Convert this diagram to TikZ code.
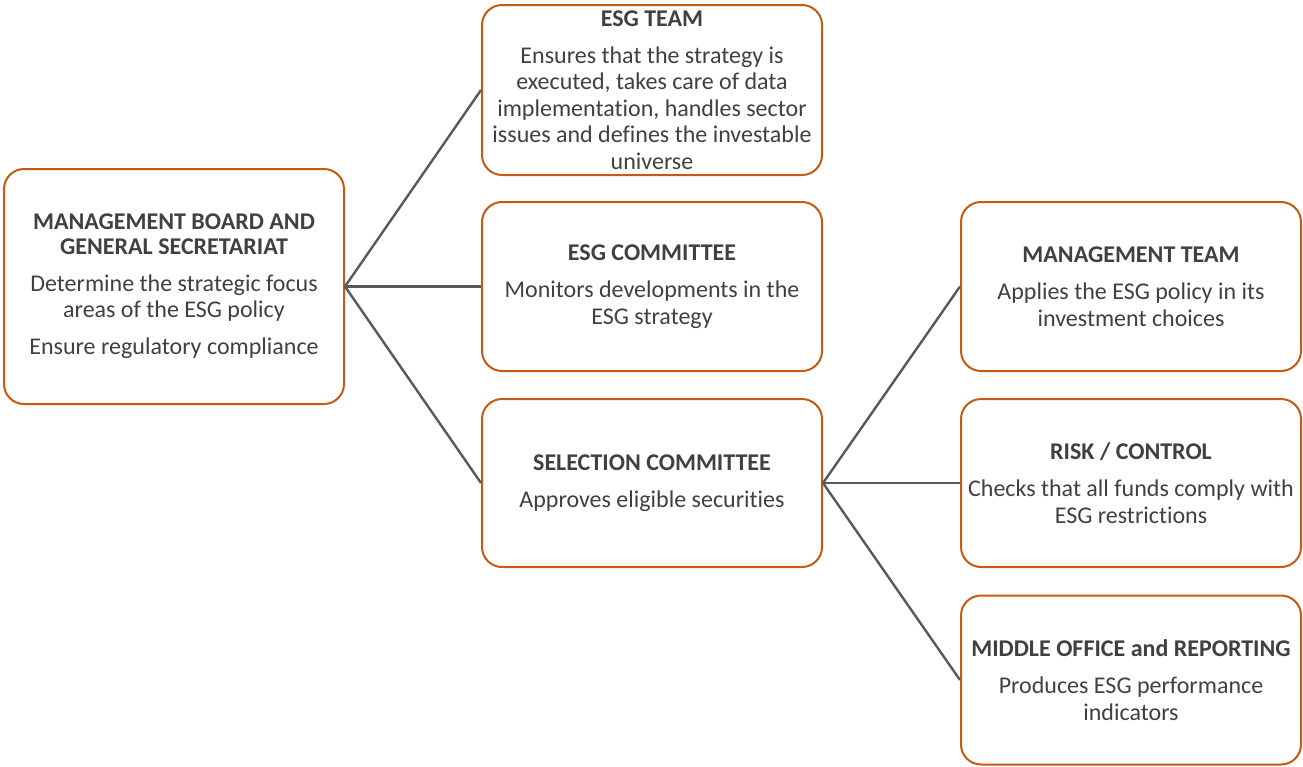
\documentclass[tikz,border=0pt]{standalone}
\usepackage{fontspec}
\setmainfont{Carlito}[Ligatures=NoCommon]
\definecolor{boxorange}{HTML}{C55A11}
\definecolor{txtgray}{HTML}{404040}
\definecolor{linegray}{HTML}{595959}
\begin{document}
\begin{tikzpicture}[x=1pt,y=-1pt,
  orgbox/.style={draw=boxorange, line width=2pt, rounded corners=20pt, fill=white,
    minimum width=340pt, align=center, text=txtgray,
    font=\fontsize{24}{26.5}\selectfont, inner sep=0pt},
  link/.style={draw=linegray, line width=2.4pt}]
\useasboundingbox (0,0) rectangle (1303,766);
\node[orgbox, minimum height=235pt] (board) at (174,286.5)
  {\textbf{MANAGEMENT BOARD AND}\\[-2pt]\textbf{GENERAL SECRETARIAT}\\[10.5pt]
   Determine the strategic focus\\areas of the ESG policy\\[10.5pt]Ensure regulatory compliance};
\node[orgbox, minimum height=170pt] (team) at (652,90)
  {\textbf{ESG TEAM}\\[10.5pt]Ensures that the strategy is\\executed, takes care of data\\
   implementation, handles sector\\issues and defines the investable\\universe};
\node[orgbox, minimum height=169pt] (committee) at (652,286.5)
  {\textbf{ESG COMMITTEE}\\[10.5pt]Monitors developments in the\\ESG strategy};
\node[orgbox, minimum height=168pt] (selection) at (652,483)
  {\textbf{SELECTION COMMITTEE}\\[10.5pt]Approves eligible securities};
\node[orgbox, minimum height=169pt] (mgmt) at (1131,286.5)
  {\textbf{MANAGEMENT TEAM}\\[10.5pt]Applies the ESG policy in its\\investment choices};
\node[orgbox, minimum height=168pt] (risk) at (1131,483)
  {\textbf{RISK / CONTROL}\\[10.5pt]Checks that all funds comply with\\ESG restrictions};
\node[orgbox, minimum height=169pt] (middle) at (1131,680)
  {\textbf{MIDDLE OFFICE and REPORTING}\\[10.5pt]Produces ESG performance\\indicators};
\draw[link] (board.east) -- (team.west);
\draw[link] (board.east) -- (committee.west);
\draw[link] (board.east) -- (selection.west);
\draw[link] (selection.east) -- (mgmt.west);
\draw[link] (selection.east) -- (risk.west);
\draw[link] (selection.east) -- (middle.west);
\end{tikzpicture}
\end{document}
